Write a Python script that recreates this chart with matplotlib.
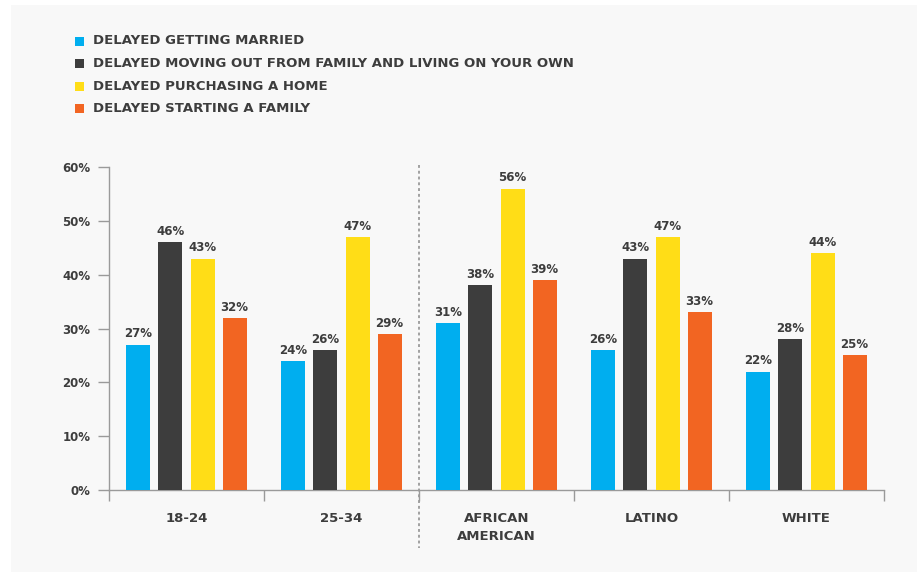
import numpy as np
import matplotlib.pyplot as plt
from matplotlib.patches import Rectangle

# Chart data
groups = ['18-24', '25-34', 'AFRICAN\nAMERICAN', 'LATINO', 'WHITE']
series = ['DELAYED GETTING MARRIED',
          'DELAYED MOVING OUT FROM FAMILY AND LIVING ON YOUR OWN',
          'DELAYED PURCHASING A HOME',
          'DELAYED STARTING A FAMILY']
married = [27, 24, 31, 26, 22]
moving_out = [46, 26, 38, 43, 28]
home = [43, 47, 56, 47, 44]
family = [32, 29, 39, 33, 25]
yticks = [0, 10, 20, 30, 40, 50, 60]

values = [married, moving_out, home, family]
colors = ['#00aeef', '#3d3d3d', '#ffdd17', '#f26522']
text_col = '#3d3d3d'
axis_col = '#9a9a9a'

plt.rcParams['font.family'] = 'DejaVu Sans'

fig = plt.figure(figsize=(9.17, 5.72), dpi=100)
fig.patch.set_facecolor('white')
# light grey panel behind everything
fig.patches.append(Rectangle((11 / 917, 0), 1, 1 - 5 / 572, transform=fig.transFigure,
                             facecolor='#f8f8f8', edgecolor='none', zorder=-10))

ax = fig.add_axes([109 / 917, 1 - 490 / 572, 775 / 917, 323 / 572])
ax.set_facecolor('none')

x = np.arange(len(groups)) + 0.5
step = 0.207
width = 0.155
for i, (vals, col) in enumerate(zip(values, colors)):
    pos = x + (i - 1.5) * step
    bars = ax.bar(pos, vals, width=width, color=col, zorder=3)
    for b, v in zip(bars, vals):
        ax.annotate('{}%'.format(v), (b.get_x() + b.get_width() / 2, v),
                    xytext=(0, 3), textcoords='offset points', ha='center', va='bottom',
                    fontsize=8.5, fontweight='bold', color=text_col)

ax.set_xlim(0, 5)
ax.set_ylim(0, 60)

# group boundary ticks on the x axis, labels in the middle
ax.set_xticks(np.arange(0, 6))
ax.set_xticklabels([])
ax.set_xticks(x, minor=True)
ax.set_xticklabels(groups, minor=True, fontsize=9.5, fontweight='bold', color=text_col,
                   va='top', linespacing=1.5)
ax.tick_params(axis='x', which='major', direction='out', length=8, width=1, color=axis_col)
ax.tick_params(axis='x', which='minor', length=0, pad=16)

ax.set_yticks(yticks)
ax.set_yticklabels(['{}%'.format(t) for t in yticks], fontsize=8.5, fontweight='bold',
                   color=text_col)
ax.tick_params(axis='y', direction='out', length=8, width=1, color=axis_col, pad=5.5)

for s in ['top', 'right']:
    ax.spines[s].set_visible(False)
for s in ['left', 'bottom']:
    ax.spines[s].set_color(axis_col)
    ax.spines[s].set_linewidth(1)

# dotted divider between age groups and ethnic groups
ax.plot([2, 2], [60.3, -10.7], color=axis_col, linestyle=(0, (1.6, 1.6)), linewidth=1.3,
        clip_on=False, zorder=2)

# legend drawn as squares and text at the top
for i, (name, col) in enumerate(zip(series, colors)):
    yy = 1 - (41 + i * 22.5) / 572
    fig.patches.append(Rectangle((75 / 917, yy - 4.5 / 572), 9 / 917, 9 / 572,
                                 transform=fig.transFigure, facecolor=col,
                                 edgecolor='none'))
    fig.text(93 / 917, yy, name, fontsize=9.5, fontweight='bold', color=text_col,
             va='center', ha='left')

fig.savefig('out.png', dpi=100, facecolor=fig.get_facecolor())
